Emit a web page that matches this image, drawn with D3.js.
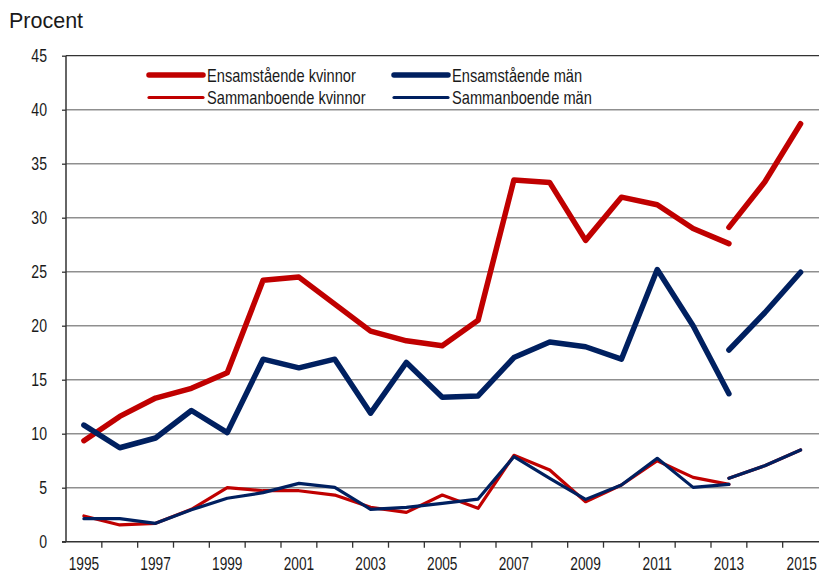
<!DOCTYPE html>
<html>
<head>
<meta charset="utf-8">
<script src="https://cdn.jsdelivr.net/npm/d3@7/dist/d3.min.js"></script>
<style>
  html, body { margin: 0; padding: 0; background: #fff; }
  svg { display: block; }
  text { font-family: 'Liberation Sans', Arial, sans-serif; fill: #1a1a1a; }
</style>
</head>
<body>
<svg id="chart" width="819" height="574"></svg>
<script>
// ---- Data ----
const years = d3.range(1995, 2016).map(String);
const yearsA = years.slice(0, 19);          // 1995–2013
const yearsB = ["2013", "2014", "2015"];    // new series 2013–2015
const yTicks = [0, 5, 10, 15, 20, 25, 30, 35, 40, 45];

const ensKvinnorA = [9.35, 11.6, 13.3, 14.2, 15.65, 24.2, 24.5, 22.0, 19.5, 18.6, 18.15, 20.5, 33.5, 33.25, 27.9, 31.9, 31.2, 29.0, 27.6];
const ensKvinnorB = [29.1, 33.3, 38.7];
const ensMaenA    = [10.8, 8.7, 9.6, 12.15, 10.1, 16.9, 16.1, 16.9, 11.9, 16.6, 13.37, 13.5, 17.05, 18.5, 18.05, 16.9, 25.2, 20.0, 13.7];
const ensMaenB    = [17.75, 21.2, 24.95];
const samKvinnorA = [2.38, 1.55, 1.7, 3.0, 5.0, 4.72, 4.72, 4.32, 3.18, 2.72, 4.32, 3.09, 8.0, 6.64, 3.7, 5.25, 7.5, 5.96, 5.31];
const samKvinnorB = [5.87, 7.04, 8.49];
const samMaenA    = [2.13, 2.13, 1.7, 2.95, 4.02, 4.54, 5.4, 5.03, 3.0, 3.18, 3.55, 3.95, 7.87, 5.87, 3.92, 5.25, 7.72, 5.03, 5.31];
const samMaenB    = [5.87, 7.04, 8.49];

const labels = {
  ensK: "Ensamstående kvinnor",
  ensM: "Ensamstående män",
  samK: "Sammanboende kvinnor",
  samM: "Sammanboende män"
};

// ---- Layout ----
const RED = "#C00000", NAVY = "#002060";
const svg = d3.select("#chart");
const x = d3.scaleBand().domain(years).range([66, 818.5]).paddingInner(0).paddingOuter(0);
const y = d3.scaleLinear().domain([0, 45]).range([541.7, 55.7]);
const cx = d => x(d) + x.bandwidth() / 2;

// condensed look: squeeze glyphs horizontally
function condense(sel, f) {
  sel.each(function () {
    const w = this.getComputedTextLength();
    d3.select(this).attr("textLength", w * f).attr("lengthAdjust", "spacingAndGlyphs");
  });
}

// gridlines
svg.append("g").selectAll("line").data(yTicks.filter(t => t > 0)).join("line")
  .attr("x1", 66).attr("x2", 819)
  .attr("y1", d => y(d)).attr("y2", d => y(d))
  .attr("stroke", d => d === 45 ? "#333" : "#8f8f8f")
  .attr("stroke-width", d => d === 45 ? 1.3 : 1.6);

// y axis
const yAxis = svg.append("g").attr("transform", "translate(66,0)")
  .call(d3.axisLeft(y).tickValues(yTicks).tickSize(4).tickPadding(15));
yAxis.select(".domain").attr("stroke", "#333").attr("stroke-width", 1.5).attr("d", `M0,${y(45)}V${y(0)}`);
yAxis.selectAll(".tick line").attr("stroke", "#333").attr("stroke-width", 1.3);
yAxis.selectAll("text").attr("font-family", null).style("font-size", "19px").attr("fill", "#1a1a1a").call(condense, 0.74);

// x axis: ticks at category boundaries, labels on odd years
const lastYear = years[years.length - 1];
const xg = svg.append("g").attr("transform", `translate(0,${y(0)})`);
xg.append("line").attr("x1", 62).attr("x2", 819).attr("y1", 0).attr("y2", 0)
  .attr("stroke", "#333").attr("stroke-width", 1.5);
xg.selectAll("line.tk").data(years.slice(1)).join("line").attr("class", "tk")
  .attr("x1", d => x(d)).attr("x2", d => x(d)).attr("y1", 0).attr("y2", 6)
  .attr("stroke", "#333").attr("stroke-width", 1.3);
xg.selectAll("text").data(years.filter(d => (+d) % 2 === 1)).join("text")
  .attr("x", d => d === lastYear ? x(d) + x.bandwidth() - 1.5 : cx(d)).attr("y", 28.5)
  .attr("text-anchor", d => d === lastYear ? "end" : "middle")
  .style("font-size", "19px").text(d => d)
  .call(condense, 0.72);

// title
svg.append("text").attr("x", 9).attr("y", 28).style("font-size", "21.5px").text("Procent");

// lines
const line = d3.line().x(d => cx(d[0])).y(d => y(d[1]));
function drawSeries(xs, vals, color, w) {
  svg.append("path").datum(xs.map((yr, i) => [yr, vals[i]]))
    .attr("d", line).attr("fill", "none").attr("stroke", color)
    .attr("stroke-width", w).attr("stroke-linejoin", "round").attr("stroke-linecap", "round");
}
drawSeries(yearsA, ensKvinnorA, RED, 5.5);
drawSeries(yearsB, ensKvinnorB, RED, 5.5);
drawSeries(yearsA, ensMaenA, NAVY, 5.5);
drawSeries(yearsB, ensMaenB, NAVY, 5.5);
drawSeries(yearsA, samKvinnorA, RED, 3.2);
drawSeries(yearsB, samKvinnorB, RED, 3.2);
drawSeries(yearsA, samMaenA, NAVY, 3.2);
drawSeries(yearsB, samMaenB, NAVY, 3.2);

// legend
const legend = [
  { key: "ensK", color: RED, w: 5.5, x: 149, y: 75 },
  { key: "ensM", color: NAVY, w: 5.5, x: 394, y: 75 },
  { key: "samK", color: RED, w: 3.2, x: 149, y: 97.5 },
  { key: "samM", color: NAVY, w: 3.2, x: 394, y: 97.5 }
];
const lg = svg.append("g").selectAll("g").data(legend).join("g");
lg.append("line").attr("x1", d => d.x).attr("x2", d => d.x + 54)
  .attr("y1", d => d.y).attr("y2", d => d.y)
  .attr("stroke", d => d.color).attr("stroke-width", d => d.w).attr("stroke-linecap", "round");
lg.append("text").attr("x", d => d.x + 58).attr("y", d => d.y + 6.6)
  .style("font-size", "19px").text(d => labels[d.key])
  .call(condense, 0.77);
</script>
</body>
</html>
